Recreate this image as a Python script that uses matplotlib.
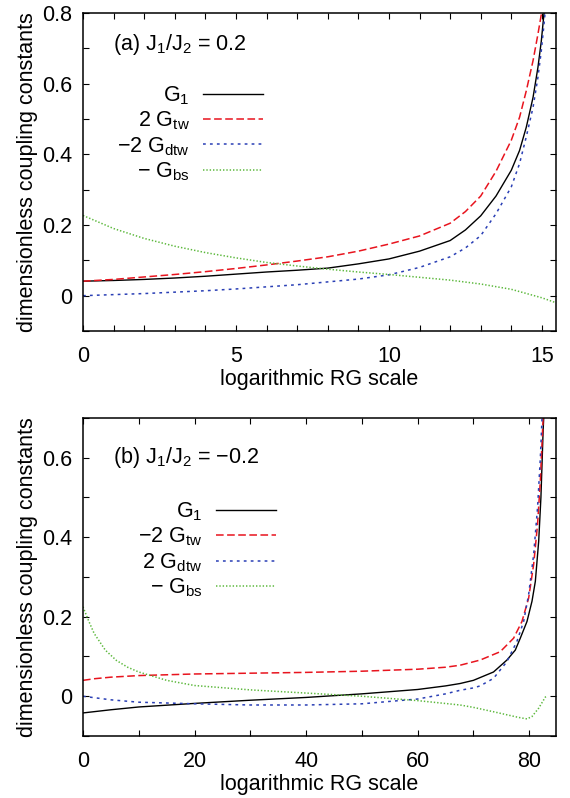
import matplotlib
matplotlib.use('Agg')
import matplotlib.pyplot as plt

plt.rcParams['font.family'] = ['Liberation Sans', 'DejaVu Sans']
plt.rcParams['mathtext.fontset'] = 'custom'
plt.rcParams['mathtext.rm'] = 'Liberation Sans'
plt.rcParams['mathtext.it'] = 'Liberation Sans:italic'
plt.rcParams['font.size'] = 15.5
plt.rcParams['lines.scale_dashes'] = False

# ---- panel (a): J1/J2 = 0.2 ----
a_g1_x = [0, 1, 2, 3, 4, 5, 6, 7, 8, 9, 10, 11, 12, 12.5, 13, 13.5, 14, 14.27, 14.49, 14.71, 14.87, 14.98, 15.07]
a_g1_y = [0.041, 0.043, 0.046, 0.050, 0.055, 0.061, 0.067, 0.072, 0.078, 0.090, 0.104, 0.126, 0.156, 0.186, 0.226, 0.282, 0.355, 0.411, 0.477, 0.561, 0.646, 0.72, 0.80]
a_tw_x = [0, 1, 2, 3, 4, 5, 6, 7, 8, 9, 10, 11, 12, 12.5, 13, 13.5, 14, 14.27, 14.49, 14.71, 14.87, 14.98, 15.0]
a_tw_y = [0.041, 0.046, 0.053, 0.060, 0.068, 0.077, 0.087, 0.098, 0.110, 0.126, 0.146, 0.169, 0.205, 0.238, 0.282, 0.352, 0.44, 0.505, 0.58, 0.665, 0.74, 0.796, 0.80]
a_dtw_x = [0, 1, 2, 3, 4, 5, 6, 7, 8, 9, 10, 11, 12, 12.5, 13, 13.5, 14, 14.27, 14.49, 14.71, 14.87, 14.98, 15.09, 15.1]
a_dtw_y = [0.0, 0.003, 0.006, 0.010, 0.014, 0.019, 0.025, 0.031, 0.039, 0.047, 0.059, 0.080, 0.110, 0.135, 0.170, 0.232, 0.308, 0.374, 0.45, 0.533, 0.618, 0.693, 0.787, 0.80]
a_bs_x = [0, 1, 2, 3, 4, 5, 6, 7, 8, 9, 10, 11, 12, 13, 14, 15, 15.46]
a_bs_y = [0.227, 0.19, 0.162, 0.14, 0.122, 0.107, 0.094, 0.084, 0.075, 0.067, 0.060, 0.052, 0.044, 0.033, 0.018, -0.006, -0.02]

# ---- panel (b): J1/J2 = -0.2 ----
b_g1_x = [0, 5, 10, 20, 30, 40, 50, 60, 65, 67.6, 70, 73.6, 76, 77.5, 78.4, 79.6, 80.5, 81.1, 81.7, 82.1, 82.5, 82.6]
b_g1_y = [-0.042, -0.034, -0.027, -0.018, -0.010, -0.003, 0.006, 0.017, 0.026, 0.032, 0.040, 0.061, 0.091, 0.116, 0.146, 0.188, 0.239, 0.289, 0.39, 0.50, 0.67, 0.70]
b_tw_x = [0, 2, 5, 10, 20, 30, 40, 50, 60, 65, 67.6, 71.2, 74.8, 77.2, 78.7, 79.9, 80.8, 81.5, 82.0, 82.4, 82.5]
b_tw_y = [0.040, 0.044, 0.048, 0.052, 0.056, 0.058, 0.060, 0.063, 0.068, 0.073, 0.078, 0.091, 0.112, 0.146, 0.188, 0.247, 0.332, 0.433, 0.543, 0.67, 0.70]
b_dtw_x = [0, 5, 10, 20, 30, 40, 50, 60, 65, 67.6, 70, 71.2, 73.6, 76, 77.8, 79.0, 79.9, 80.8, 81.5, 82.0, 82.3]
b_dtw_y = [0.0, -0.009, -0.015, -0.019, -0.022, -0.022, -0.019, -0.007, 0.006, 0.015, 0.021, 0.026, 0.045, 0.087, 0.138, 0.188, 0.256, 0.357, 0.475, 0.60, 0.70]
b_bs_x = [0, 1, 2, 4, 6, 8, 10, 15, 20, 30, 40, 50, 60, 67.6, 70, 73.6, 78, 79.6, 80.5, 81.7, 82.9, 83.2]
b_bs_y = [0.225, 0.19, 0.158, 0.116, 0.090, 0.073, 0.061, 0.040, 0.027, 0.016, 0.008, 0.0, -0.011, -0.022, -0.028, -0.039, -0.053, -0.057, -0.051, -0.030, -0.002, 0.0]

red = '#e8141e'
blue = '#2a3fb5'
green = '#5cb83c'

fig = plt.figure(figsize=(5.7, 7.98), dpi=100)
axA = fig.add_axes([0.1456, 0.5852, 0.8298, 0.3985])
axB = fig.add_axes([0.1456, 0.0777, 0.8298, 0.3985])


def style(ax):
    ax.tick_params(which='both', direction='in', top=True, right=True, length=4, width=0.8)
    ax.tick_params(axis='x', pad=11)
    ax.tick_params(axis='y', pad=8)
    for s in ax.spines.values():
        s.set_linewidth(1.1)
    ax.set_xlabel('logarithmic RG scale', labelpad=1)
    ax.set_ylabel('dimensionless coupling constants', labelpad=3)


# panel (a)
axA.plot(a_g1_x, a_g1_y, color='black', lw=1.0, label='G$_1$')
axA.plot(a_tw_x, a_tw_y, color=red, lw=1.1, dashes=(5.5, 2.5), label='2 G$_{\\rm tw}$')
axA.plot(a_dtw_x, a_dtw_y, color=blue, lw=1.1, dashes=(2, 3), label='\u22122 G$_{\\rm dtw}$')
axA.plot(a_bs_x, a_bs_y, color=green, lw=1.1, dashes=(1, 1.4), label='\u2212 G$_{\\rm bs}$')
axA.set_xlim(0, 15.46)
axA.set_ylim(-0.1, 0.8)
axA.set_xticks([0, 5, 10, 15])
axA.set_xticks(range(0, 16), minor=True)
axA.set_yticks([0, 0.2, 0.4, 0.6, 0.8])
axA.set_yticklabels(['0', '0.2', '0.4', '0.6', '0.8'])
axA.set_yticks([-0.1, 0.1, 0.3, 0.5, 0.7], minor=True)
style(axA)
axA.text(0.063, 0.885, '(a) J$_1$/J$_2$ = 0.2', transform=axA.transAxes)
axA.legend(loc='upper right', bbox_to_anchor=(0.381, 0.775), frameon=False,
           markerfirst=False, handlelength=2.8, handletextpad=0.6,
           labelspacing=0.12, borderpad=0, borderaxespad=0)

# panel (b)
axB.plot(b_g1_x, b_g1_y, color='black', lw=1.0, label='G$_1$')
axB.plot(b_tw_x, b_tw_y, color=red, lw=1.1, dashes=(5.5, 2.5), label='\u22122 G$_{\\rm tw}$')
axB.plot(b_dtw_x, b_dtw_y, color=blue, lw=1.1, dashes=(2, 3), label='2 G$_{\\rm dtw}$')
axB.plot(b_bs_x, b_bs_y, color=green, lw=1.1, dashes=(1, 1.4), label='\u2212 G$_{\\rm bs}$')
axB.set_xlim(0, 84.8)
axB.set_ylim(-0.1, 0.7)
axB.set_xticks([0, 20, 40, 60, 80])
axB.set_xticks(range(0, 85, 10), minor=True)
axB.set_yticks([0, 0.2, 0.4, 0.6])
axB.set_yticklabels(['0', '0.2', '0.4', '0.6'])
axB.set_yticks([-0.1, 0.1, 0.3, 0.5, 0.7], minor=True)
style(axB)
axB.text(0.063, 0.86, '(b) J$_1$/J$_2$ = \u22120.2', transform=axB.transAxes)
axB.legend(loc='upper right', bbox_to_anchor=(0.408, 0.74), frameon=False,
           markerfirst=False, handlelength=2.8, handletextpad=0.6,
           labelspacing=0.12, borderpad=0, borderaxespad=0)

fig.savefig('out.png', dpi=100)
